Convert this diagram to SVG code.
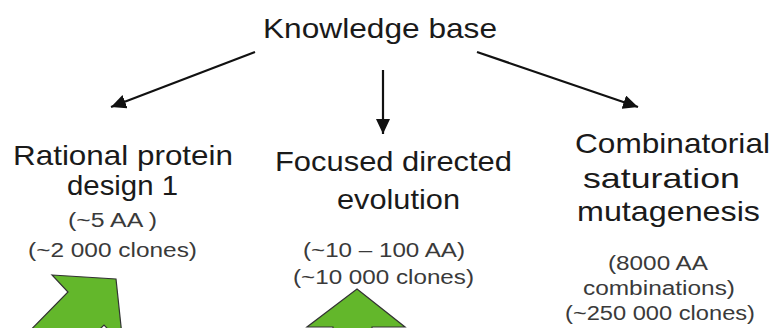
<svg xmlns="http://www.w3.org/2000/svg" width="772" height="328" viewBox="0 0 772 328">
<defs>
<style>
.big{font-family:"Liberation Sans",Arial,sans-serif;font-size:28px;fill:#1a1a1a}
.small{font-family:"Liberation Sans",Arial,sans-serif;font-size:20px;fill:#3a3a3a}
.conn{stroke:#111;stroke-width:2.2;fill:none}
.blk{fill:#63b72b;stroke:#333;stroke-width:1.2;stroke-linejoin:miter}
</style>
<marker id="ah" markerUnits="userSpaceOnUse" markerWidth="16" markerHeight="14" refX="15" refY="7" orient="auto">
<path d="M0,0 L15,7 L0,14 z" fill="#111"/>
</marker>
</defs>
<rect width="772" height="328" fill="#fff"/>
<g id="connectors">
<line class="conn" x1="255" y1="52" x2="111" y2="107" marker-end="url(#ah)"/>
<line class="conn" x1="383" y1="70" x2="383" y2="134" marker-end="url(#ah)"/>
<line class="conn" x1="477" y1="52" x2="638" y2="107" marker-end="url(#ah)"/>
</g>
<g id="green-arrow-left">
<polygon class="blk" points="52,275 116,279 123,345 104,325 80,349 12,349 68,292"/>
</g>
<g id="green-arrow-center">
<polygon class="blk" points="357,289 405,327 372,327 372,345 333,345 333,327 307,327"/>
</g>
<g id="knowledge-base">
<text class="big" x="263" y="38" textLength="234" lengthAdjust="spacingAndGlyphs">Knowledge base</text>
</g>
<g id="rational">
<text class="big" x="13" y="165" textLength="220" lengthAdjust="spacingAndGlyphs">Rational protein</text>
<text class="big" x="67" y="195" textLength="111" lengthAdjust="spacingAndGlyphs">design 1</text>
<text class="small" x="68" y="227" textLength="89" lengthAdjust="spacingAndGlyphs">(~5 AA )</text>
<text class="small" x="28" y="257" textLength="169" lengthAdjust="spacingAndGlyphs">(~2 000 clones)</text>
</g>
<g id="focused">
<text class="big" x="275" y="171" textLength="237" lengthAdjust="spacingAndGlyphs">Focused directed</text>
<text class="big" x="337" y="209" textLength="123" lengthAdjust="spacingAndGlyphs">evolution</text>
<text class="small" x="303" y="257" textLength="162" lengthAdjust="spacingAndGlyphs">(~10 – 100 AA)</text>
<text class="small" x="293" y="284" textLength="181" lengthAdjust="spacingAndGlyphs">(~10 000 clones)</text>
</g>
<g id="combinatorial">
<text class="big" x="575" y="153" textLength="195" lengthAdjust="spacingAndGlyphs">Combinatorial</text>
<text class="big" x="583" y="188" textLength="157" lengthAdjust="spacingAndGlyphs">saturation</text>
<text class="big" x="577" y="221" textLength="183" lengthAdjust="spacingAndGlyphs">mutagenesis</text>
<text class="small" x="608" y="270" textLength="100" lengthAdjust="spacingAndGlyphs">(8000 AA</text>
<text class="small" x="583" y="295" textLength="152" lengthAdjust="spacingAndGlyphs">combinations)</text>
<text class="small" x="565" y="320" textLength="190" lengthAdjust="spacingAndGlyphs">(~250 000 clones)</text>
</g>
</svg>
